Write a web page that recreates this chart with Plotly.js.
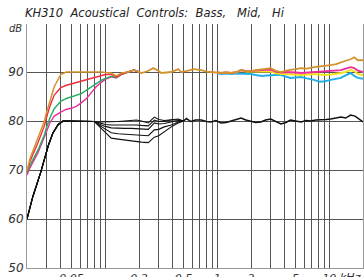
<!DOCTYPE html>
<html><head><meta charset="utf-8">
<script src="https://cdn.plot.ly/plotly-3.0.1.min.js"></script>
<style>html,body{margin:0;padding:0;background:#fff;}#chart{width:364px;height:277px;}</style>
</head><body><div id="chart"></div>
<script>
// Frequency (kHz) grids
const fLow = [0.02,0.0213,0.025,0.0286,0.0297,0.032,0.035,0.04,0.045,0.05,0.055,0.061,0.068,0.075,0.083,0.092,0.1,0.113,0.125,0.14,0.16,0.18,0.2];
const orangeLow = [69.8,72.4,76.5,80,81.5,84,87,89.5,90,90,90,90,90,90,90.1,90,89.9,89.8,89.2,89.8,90,90.4,90];
const redLow    = [69.5,71.8,75.5,79,80.5,83,85.3,86.8,87.3,87.6,87.8,88.2,88.5,88.8,89.1,89.4,89.5,89.5,89.0,89.6,90,90.4,90];
const greenLow  = [69.3,71,74,77.2,78.5,80.6,82.5,84,84.6,84.9,85.2,85.6,86.3,87,87.6,88.3,88.7,89.1,88.9,89.6,90,90.4,90];
const pinkLow   = [69,70.5,73.5,76.5,77.7,79.6,81,81.8,82.4,82.6,83,83.7,84.6,85.8,87,87.9,88.5,89,88.8,89.5,90,90.4,90];

const fMidHi = [0.2,0.21,0.24,0.268,0.3,0.316,0.35,0.388,0.448,0.476,0.55,0.62,0.72,0.8,0.88,1.0,1.08,1.2,1.33,1.5,1.63,1.8,2.0,2.2,2.5,2.75,3.0,3.3,3.7,4.1,4.5,5.0,5.6,6.3,7.3,8.2,9.2,10.3,11.5,12.7,14,15.5,16.7,18,20];
const orangeHi = [90,89.8,90.2,90.8,90.2,89.8,89.9,90,90.6,90,90.3,90.6,90.4,90.1,90,89.9,89.8,89.9,89.8,90,90.4,90.2,90.2,90.4,90.6,90.8,90.8,90.3,90,90.3,90.4,90.6,90.8,90.7,91,91.1,91.2,91.4,91.6,92,92.3,92.6,93,92.4,92.4];
const fHi = [1.0,1.08,1.2,1.33,1.5,1.63,1.8,2.0,2.2,2.5,2.75,3.0,3.3,3.7,4.1,4.5,5.0,5.6,6.3,7.3,8.2,9.2,10.3,11.5,12.7,14,15.5,16.7,18,20];
const pinkHi   = [89.9,89.8,89.9,89.8,90,90.4,90.2,90.2,90.3,90.4,90.5,90.5,90.1,89.9,90,90,89.9,89.8,89.9,90,90,90.1,90.2,90.3,90.4,90.7,91,90.8,90.3,90];
const yellowHi = [89.9,89.8,89.9,89.8,90,90.4,90.1,90.1,90,90,90.1,90.1,89.8,89.6,89.6,89.5,89.4,89.4,89.5,89.6,89.5,89.4,89.5,89.6,89.8,90,90.4,90.2,89.6,89.4];
const cyanHi   = [89.8,89.6,89.7,89.6,89.7,89.7,89.6,89.6,89.4,89.2,89.3,89.4,89.4,89.4,89.1,88.8,88.9,89,88.7,88.4,88.0,88.1,88.4,88.6,88.8,89.3,89.8,89.2,88.8,88.6];

// Black curves (mid settings)
const fBlack = [0.02,0.0225,0.0265,0.029,0.031,0.034,0.038,0.042,0.05,0.06,0.07,0.08,0.09,0.1,0.113,0.13,0.148,0.17,0.19,0.21,0.242,0.274,0.3,0.336,0.388,0.448,0.5];
const blackA = [60,64.5,69.5,72.5,75,77.5,79.3,80,80,80,80,79.9,79.8,79.8,79.8,79.9,80,80.1,80.2,80,79.6,80.8,80.3,80.1,80.2,80.4,80];
const blackB = [60,64.5,69.5,72.5,75,77.5,79.3,80,80,80,80,79.9,79.6,79.3,79.2,79.2,79.3,79.3,79.2,79.1,79.0,80.2,79.9,79.9,80.2,80.2,80];
const blackC = [60,64.5,69.5,72.5,75,77.5,79.3,80,80,80,80,79.9,79.3,78.9,78.6,78.5,78.5,78.5,78.4,78.4,78.3,79.6,79.4,79.5,79.8,80.1,80];
const blackD = [60,64.5,69.5,72.5,75,77.5,79.3,80,80,80,80,79.9,79.0,78.3,77.6,77.4,77.3,77.2,77.1,77.1,77.0,78.2,78.3,78.8,79.2,79.8,80];
const blackE = [60,64.5,69.5,72.5,75,77.5,79.3,80,80,80,80,79.9,78.7,77.6,76.5,76.3,76.1,75.9,75.8,75.7,75.6,76.7,77.0,77.8,78.8,79.6,80];
const fBlackHi = [0.5,0.53,0.58,0.64,0.72,0.8,0.88,0.97,1.08,1.2,1.33,1.48,1.63,1.8,2.0,2.2,2.45,2.7,3.0,3.3,3.7,4.1,4.5,5.0,5.6,6.2,6.8,7.6,8.5,9.4,10.3,11.5,12.7,14,15.5,17,18.5,20];
const blackHi = [80,80.5,79.9,80.2,80.2,79.9,79.8,80.1,79.6,79.7,80,80.3,80.6,80.2,80,79.7,79.8,80.2,80.4,79.9,79.4,79.7,80.2,80,79.8,80.1,80,80.2,80.2,80.3,80.4,80.6,80.8,80.6,81.2,81,80.4,79.8];

// Axis ticks
const xGrid = [0.02,0.03,0.04,0.05,0.06,0.07,0.08,0.09,0.1,0.2,0.3,0.4,0.5,0.6,0.7,0.8,0.9,1,2,3,4,5,6,7,8,9,10,20];
const xLabels = {0.05:'0.05',0.2:'0.2',0.5:'0.5',1:'1',2:'2',5:'5',10:'10'};
const yTicks = [50,60,70,80,90];
const yLabels = ['50','60','70','80','90'];

const C = {orange:'#D4922E', red:'#EE2F3D', green:'#21AE5E', pink:'#EC2E9C', yellow:'#F3E21A', cyan:'#24AEE8', black:'#111111'};
function tr(x,y,color,w){return {x:x,y:y,type:'scatter',mode:'lines',line:{color:color,width:w||1.5},hoverinfo:'skip',showlegend:false};}

const data = [
  tr(fBlack,blackA,C.black,1.1), tr(fBlack,blackB,C.black,1.1), tr(fBlack,blackC,C.black,1.1),
  tr(fBlack,blackD,C.black,1.1), tr(fBlack,blackE,C.black,1.1), tr(fBlackHi,blackHi,C.black,1.5),
  tr(fHi,cyanHi,C.cyan,2), tr(fHi,yellowHi,C.yellow,2), tr(fHi,pinkHi,C.pink,1.8),
  tr(fLow,pinkLow,C.pink,1.4), tr(fLow,greenLow,C.green,1.4), tr(fLow,redLow,C.red,1.4),
  tr(fLow,orangeLow,C.orange,1.5), tr(fMidHi,orangeHi,C.orange,1.8)
];

const italic = {family:'DejaVu Sans, sans-serif', size:11, color:'#333', style:'italic'};
const layout = {
  width:364, height:277, margin:{l:27,r:1,t:24,b:9},
  paper_bgcolor:'#fff', plot_bgcolor:'#fff',
  title:{text:'KH310\u00a0 Acoustical\u00a0 Controls:\u00a0 Bass,\u00a0\u00a0 Mid,\u00a0\u00a0 Hi', x:25/364, xanchor:'left', y:1-13/277, yanchor:'middle', font:{family:'DejaVu Sans, sans-serif', size:11.5, color:'#222', style:'italic'}},
  xaxis:{type:'log', range:[Math.log10(0.02), Math.log10(20)], tickmode:'array', tickvals:xGrid,
         ticktext:xGrid.map(v=>xLabels[v]||''), showgrid:true, gridcolor:'#555', gridwidth:1,
         showline:true, linecolor:'#999', linewidth:1, ticks:'', tickfont:italic, zeroline:false, fixedrange:true},
  yaxis:{range:[50,99.8], tickmode:'array', tickvals:yTicks, ticktext:yLabels, showgrid:true, gridcolor:'#555', gridwidth:1,
         showline:true, mirror:true, linecolor:'#999', linewidth:1, ticks:'', tickfont:{family:'DejaVu Sans, sans-serif', size:12, color:'#333', style:'italic'}, zeroline:false, fixedrange:true},
  annotations:[
    {text:'dB', xref:'paper', yref:'paper', x:-3/337, y:1-4/244, xanchor:'right', yanchor:'middle', showarrow:false, font:{family:'DejaVu Sans, sans-serif', size:10, color:'#333', style:'italic'}},
    {text:'kHz', xref:'paper', yref:'paper', x:1, y:-0.005, xanchor:'right', yanchor:'top', showarrow:false, font:italic}
  ]
};
Plotly.newPlot('chart', data, layout, {staticPlot:true, displayModeBar:false});
</script></body></html>
